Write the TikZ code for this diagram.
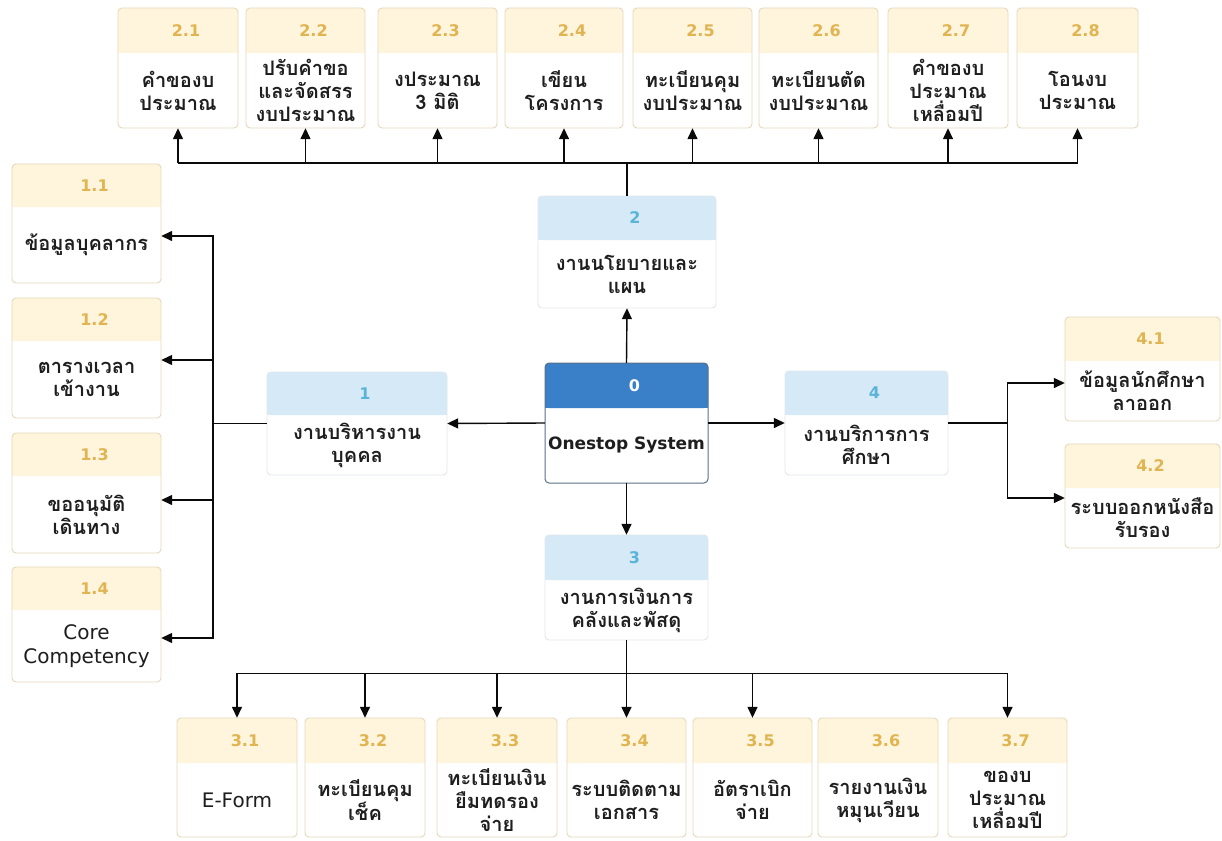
\documentclass[tikz,border=0pt]{standalone}
\usepackage{fontspec}
\setmainfont{DejaVu Sans}
\newfontfamily\thaifont[Script=Thai]{Loma}
\usetikzlibrary{arrows.meta}

\definecolor{subhead}{HTML}{FFF4DC}
\definecolor{subedge}{HTML}{E6D8BA}
\definecolor{subnum}{HTML}{E0B450}
\definecolor{mainhead}{HTML}{D6E9F7}
\definecolor{mainedge}{HTML}{E0E7EE}
\definecolor{mainnum}{HTML}{5AB4D8}
\definecolor{roothead}{HTML}{3A80C8}
\definecolor{rootedge}{HTML}{5A7088}
\definecolor{inktext}{HTML}{1E1E1E}
\definecolor{wire}{HTML}{0A0A0A}

\newcommand\thaibody{\thaifont\bfseries\fontsize{20}{23}\selectfont}
\newcommand\latinbody{\normalfont\mdseries\fontsize{20}{24}\selectfont}
\newcommand\rootbody{\normalfont\bfseries\fontsize{17}{22}\selectfont}
\newcommand\numfont{\normalfont\bfseries\fontsize{16}{18}\selectfont}

\tikzset{
  sub card/.style={rectangle, fill=white, inner sep=0pt},
  main card/.style={rectangle, fill=white, inner sep=0pt},
  root card/.style={rectangle, fill=white, inner sep=0pt},
  sub head/.style={fill=subhead},
  main head/.style={fill=mainhead},
  root head/.style={fill=roothead},
  sub edge/.style={draw=subedge, line width=0.9pt},
  main edge/.style={draw=mainedge, line width=0.9pt},
  root edge/.style={draw=rootedge, line width=1pt},
  sub num/.style={text=subnum, font=\numfont, xshift=8pt, inner sep=0pt},
  main num/.style={text=mainnum, font=\numfont, xshift=8pt, inner sep=0pt},
  root num/.style={text=white, font=\numfont, xshift=8pt, inner sep=0pt},
  card text/.style={text=inktext, font=\thaibody, align=center, inner sep=0pt},
  link/.style={draw=wire, line width=1.4pt},
  arrow/.style={link, -{Triangle[length=11pt,width=10pt]}},
}

% #1 name, #2 left, #3 top, #4 right, #5 bottom, #6 bottom of header band,
% #7 number, #8 label, #9 kind (sub | main | root)
\newcommand\card[9]{%
  \node[#9 card, minimum width={(#4-#2)*1pt}, minimum height={(#5-#3)*1pt}]
    (#1) at ({(#2+#4)/2},{(#3+#5)/2}) {};
  \fill[#9 head, rounded corners=4pt] (#2,#3) rectangle (#4,#6);
  \fill[#9 head] (#2,{#3+6}) rectangle (#4,#6);
  \draw[#9 edge, rounded corners=4pt] (#2,#3) rectangle (#4,#5);
  \node[#9 num] (#1-num) at ({(#2+#4)/2},{(#3+#6)/2}) {#7};
  \node[card text] (#1-txt) at ({(#2+#4)/2},{(#6+#5)/2}) {#8};
}

\begin{document}
\begin{tikzpicture}[x=1pt, y=-1pt]
\useasboundingbox (0,0) rectangle (1222,840);
\fill[white] (0,0) rectangle (1222,840);

% ---- top row: budget tasks
\card{n21}{118}{8}{238}{128}{53}{2.1}{คำของบ\\ประมาณ}{sub}
\card{n22}{246}{8}{365}{128}{53}{2.2}{ปรับคำขอ\\และจัดสรร\\งบประมาณ}{sub}
\card{n23}{378}{8}{497}{128}{53}{2.3}{งประมาณ\\3 มิติ}{sub}
\card{n24}{505}{8}{623}{128}{53}{2.4}{เขียน\\โครงการ}{sub}
\card{n25}{633}{8}{752}{128}{53}{2.5}{ทะเบียนคุม\\งบประมาณ}{sub}
\card{n26}{759}{8}{878}{128}{53}{2.6}{ทะเบียนตัด\\งบประมาณ}{sub}
\card{n27}{888}{8}{1008}{128}{53}{2.7}{คำของบ\\ประมาณ\\เหลื่อมปี}{sub}
\card{n28}{1017}{8}{1138}{128}{53}{2.8}{โอนงบ\\ประมาณ}{sub}

% ---- left column: personnel tasks
\card{n11}{12}{164}{161}{283}{207}{1.1}{ข้อมูลบุคลากร}{sub}
\card{n12}{12}{298}{161}{418}{341}{1.2}{ตารางเวลา\\เข้างาน}{sub}
\card{n13}{12}{433}{161}{553}{476}{1.3}{ขออนุมัติ\\เดินทาง}{sub}
\begin{scope}[card text/.append style={font=\latinbody}]
\card{n14}{12}{567}{161}{682}{610}{1.4}{Core\\Competency}{sub}
\end{scope}

% ---- main divisions
\card{n1}{267}{372}{447}{475}{415}{1}{งานบริหารงาน\\บุคคล}{main}
\card{n2}{538}{196}{716}{308}{240}{2}{งานนโยบายและ\\แผน}{main}
\card{n4}{785}{371}{948}{475}{415}{4}{งานบริการการ\\ศึกษา}{main}
\card{n3}{545}{535}{708}{640}{580}{3}{งานการเงินการ\\คลังและพัสดุ}{main}
\begin{scope}[card text/.append style={font=\rootbody}]
\card{n0}{545}{363}{708}{483}{408}{0}{Onestop System}{root}
\end{scope}

% ---- right column: student services
\card{n41}{1065}{317}{1220}{421}{361}{4.1}{ข้อมูลนักศึกษา\\ลาออก}{sub}
\card{n42}{1065}{444}{1220}{548}{488}{4.2}{ระบบออกหนังสือ\\รับรอง}{sub}

% ---- bottom row: finance tasks
\begin{scope}[card text/.append style={font=\latinbody}]
\card{n31}{177}{718}{297}{837}{763}{3.1}{E-Form}{sub}
\end{scope}
\card{n32}{305}{718}{425}{837}{763}{3.2}{ทะเบียนคุม\\เช็ค}{sub}
\card{n33}{437}{718}{557}{837}{763}{3.3}{ทะเบียนเงิน\\ยืมทดรอง\\จ่าย}{sub}
\card{n34}{567}{718}{686}{837}{763}{3.4}{ระบบติดตาม\\เอกสาร}{sub}
\card{n35}{693}{718}{812}{837}{763}{3.5}{อัตราเบิก\\จ่าย}{sub}
\card{n36}{818}{718}{938}{837}{763}{3.6}{รายงานเงิน\\หมุนเวียน}{sub}
\card{n37}{948}{718}{1067}{837}{763}{3.7}{ของบ\\ประมาณ\\เหลื่อมปี}{sub}

% ---- connectors from the system root
\draw[arrow] (n0.west) -- (n1.east);
\draw[arrow] (n0.north) -- (n2.south);
\draw[arrow] (n0.east) -- (n4.west);
\draw[arrow] (n0.south) -- (n3.north);

% division 2 fans out upward
\coordinate (topbus) at (627,163);
\draw[link, line width=2.2pt] (n2.north) -- (topbus);
\draw[link] (n21.south |- topbus) -- (n28.south |- topbus);
\foreach \k in {1,...,8}{
  \draw[arrow] (n2\k.south |- topbus) -- (n2\k.south);
}

% division 1 fans out to the left
\draw[arrow] (n1.west) -- ++(-54,0) |- ([yshift=-12.5pt]n11.east);
\draw[arrow] (n1.west) -- ++(-54,0) |- ([yshift=-2pt]n12.east);
\draw[arrow] (n1.west) -- ++(-54,0) |- ([yshift=-7pt]n13.east);
\draw[arrow] (n1.west) -- ++(-54,0) |- ([yshift=-13.5pt]n14.east);

% division 4 fans out to the right
\draw[arrow] (n4.east) -- ++(59,0) |- ([yshift=-14pt]n41.west);
\draw[arrow] (n4.east) -- ++(59,0) |- ([yshift=-2pt]n42.west);

% division 3 fans out downward
\foreach \k in {1,2,3,4,5,7}{
  \draw[arrow] (n3.south) -- ++(0,33) -| (n3\k.north);
}
\end{tikzpicture}
\end{document}
